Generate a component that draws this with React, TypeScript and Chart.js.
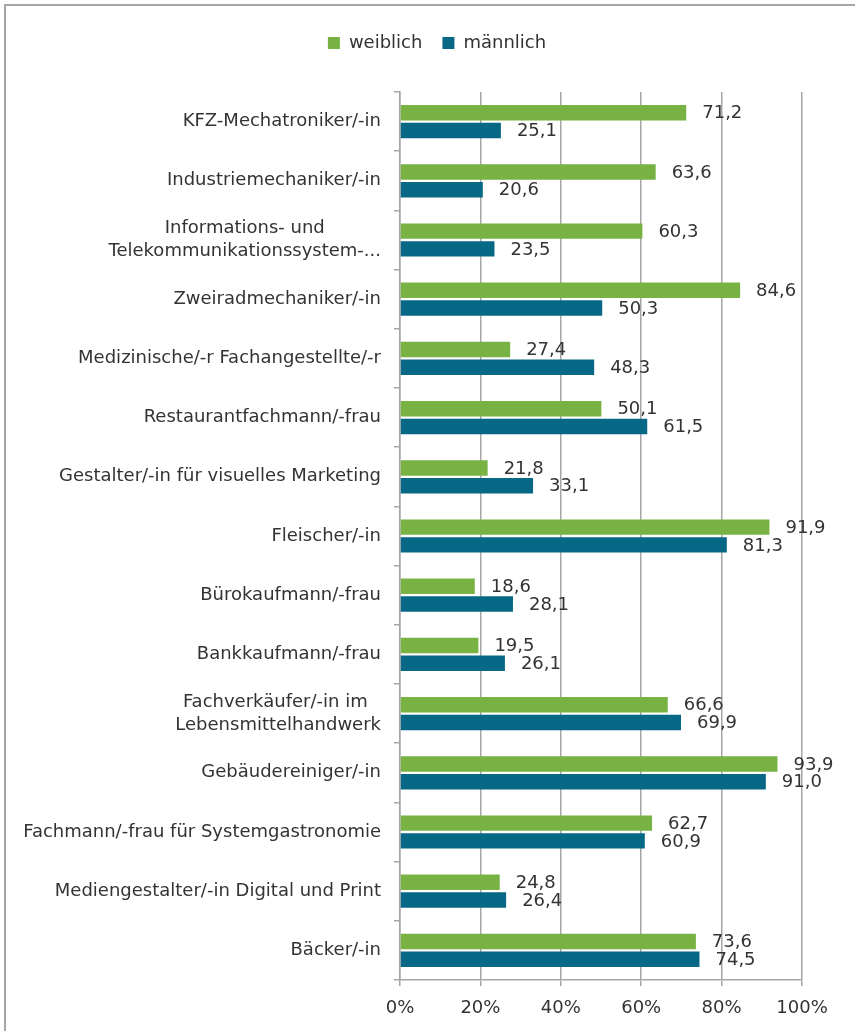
import React, { useEffect, useRef } from "react";
import { Chart, registerables } from "chart.js";

Chart.register(...registerables);

const categories: string[][] = [
  ["KFZ-Mechatroniker/-in"],
  ["Industriemechaniker/-in"],
  ["Informations- und", "Telekommunikationssystem-..."],
  ["Zweiradmechaniker/-in"],
  ["Medizinische/-r Fachangestellte/-r"],
  ["Restaurantfachmann/-frau"],
  ["Gestalter/-in für visuelles Marketing"],
  ["Fleischer/-in"],
  ["Bürokaufmann/-frau"],
  ["Bankkaufmann/-frau"],
  ["Fachverkäufer/-in im ", "Lebensmittelhandwerk"],
  ["Gebäudereiniger/-in"],
  ["Fachmann/-frau für Systemgastronomie"],
  ["Mediengestalter/-in Digital und Print"],
  ["Bäcker/-in"],
];

const weiblich: number[] = [71.2, 63.6, 60.3, 84.6, 27.4, 50.1, 21.8, 91.9, 18.6, 19.5, 66.6, 93.9, 62.7, 24.8, 73.6];
const maennlich: number[] = [25.1, 20.6, 23.5, 50.3, 48.3, 61.5, 33.1, 81.3, 28.1, 26.1, 69.9, 91.0, 60.9, 26.4, 74.5];

const seriesNames: string[] = ["weiblich", "männlich"];
const xTickValues: number[] = [0, 20, 40, 60, 80, 100];

const FONT = "'DejaVu Sans', sans-serif";
const TEXT = "#333333";
const GRID = "#a6a6a6";
const GREEN = "#77b243";
const BLUE = "#066884";

const fmt = (v: number) => v.toFixed(1).replace(".", ",");

const frame = {
  id: "frame",
  beforeDraw(chart: any) {
    const ctx = chart.ctx;
    ctx.save();
    ctx.fillStyle = "#ffffff";
    ctx.fillRect(0, 0, chart.width, chart.height);
    ctx.strokeStyle = GRID;
    ctx.lineWidth = 2;
    ctx.beginPath();
    ctx.moveTo(5, chart.height);
    ctx.lineTo(5, 5);
    ctx.lineTo(chart.width, 5);
    ctx.stroke();
    ctx.restore();
  },
};

const legendTweak = {
  id: "legendTweak",
  beforeLayout(chart: any) {
    const lg = chart.legend;
    if (lg && !lg.__patched) {
      const origFit = lg.fit.bind(lg);
      lg.fit = function () {
        origFit();
        lg.height += 30;
      };
      const origDraw = lg.draw.bind(lg);
      lg.draw = function (...args: any[]) {
        const ctx = chart.ctx;
        ctx.save();
        ctx.translate(36, 0);
        origDraw(...args);
        ctx.restore();
      };
      lg.__patched = true;
    }
  },
};

const categoryLabels = {
  id: "categoryLabels",
  afterDraw(chart: any) {
    const ctx = chart.ctx;
    const y = chart.scales.y;
    ctx.save();
    ctx.font = `18px ${FONT}`;
    ctx.fillStyle = TEXT;
    ctx.textBaseline = "middle";
    ctx.textAlign = "center";
    const right = y.right - 19;
    categories.forEach((lines, i) => {
      const cy = y.getPixelForValue(i);
      const widths = lines.map((l) => ctx.measureText(l).width);
      const maxW = Math.max(...widths);
      const cx = right - maxW / 2;
      const lh = 23;
      const startY = cy - ((lines.length - 1) * lh) / 2;
      lines.forEach((l, j) => ctx.fillText(l, cx, startY + j * lh));
    });
    ctx.restore();
  },
};

const valueLabels = {
  id: "valueLabels",
  afterDatasetsDraw(chart: any) {
    const ctx = chart.ctx;
    ctx.save();
    ctx.font = `18px ${FONT}`;
    ctx.fillStyle = TEXT;
    ctx.textBaseline = "middle";
    ctx.textAlign = "left";
    chart.data.datasets.forEach((ds: any, di: number) => {
      const meta = chart.getDatasetMeta(di);
      meta.data.forEach((el: any, i: number) => {
        ctx.fillText(fmt(ds.data[i]), el.x + 16, el.y + 1);
      });
    });
    ctx.restore();
  },
};

export default function App() {
  const ref = useRef<HTMLCanvasElement | null>(null);

  useEffect(() => {
    document.body.style.margin = "0";
    document.body.style.overflow = "hidden";
    if (!ref.current) return;
    const chart = new Chart(ref.current, {
      type: "bar",
      data: {
        labels: categories.map((c) => c.join(" ")),
        datasets: [
          {
            label: seriesNames[0],
            data: weiblich,
            backgroundColor: GREEN,
            categoryPercentage: 0.6,
            barPercentage: 0.87,
          },
          {
            label: seriesNames[1],
            data: maennlich,
            backgroundColor: BLUE,
            categoryPercentage: 0.6,
            barPercentage: 0.87,
          },
        ],
      },
      options: {
        indexAxis: "y",
        animation: false,
        responsive: false,
        devicePixelRatio: 1,
        layout: { padding: { top: 14, right: 53, bottom: 0, left: 0 } },
        plugins: {
          legend: {
            display: true,
            position: "top",
            labels: {
              boxWidth: 12,
              boxHeight: 12,
              padding: 20,
              color: TEXT,
              font: { family: FONT, size: 18 },
            },
          },
          tooltip: { enabled: false },
        },
        scales: {
          x: {
            min: 0,
            max: 100,
            afterBuildTicks: (s: any) => {
              s.ticks = xTickValues.map((v) => ({ value: v }));
            },
            afterFit: (s: any) => {
              s.height = 51;
            },
            ticks: {
              color: TEXT,
              font: { family: FONT, size: 18 },
              padding: 12,
              callback: (v: any) => `${v}%`,
            },
            grid: { color: GRID, lineWidth: 1.5, tickLength: 6, drawTicks: true },
            border: { color: GRID, width: 1.5 },
          },
          y: {
            afterFit: (s: any) => {
              s.width = 400;
            },
            ticks: { display: false },
            grid: { offset: true, drawOnChartArea: false, color: GRID, lineWidth: 1.5, tickLength: 6 },
            border: { color: GRID, width: 1.5 },
          },
        },
      },
      plugins: [frame, legendTweak, categoryLabels, valueLabels],
    } as any);
    return () => chart.destroy();
  }, []);

  return (
    <div style={{ position: "relative", width: 855, height: 1031, overflow: "hidden", background: "#fff" }}>
      <canvas ref={ref} width={855} height={1031} style={{ position: "absolute", left: 0, top: 0, display: "block" }} />
    </div>
  );
}
